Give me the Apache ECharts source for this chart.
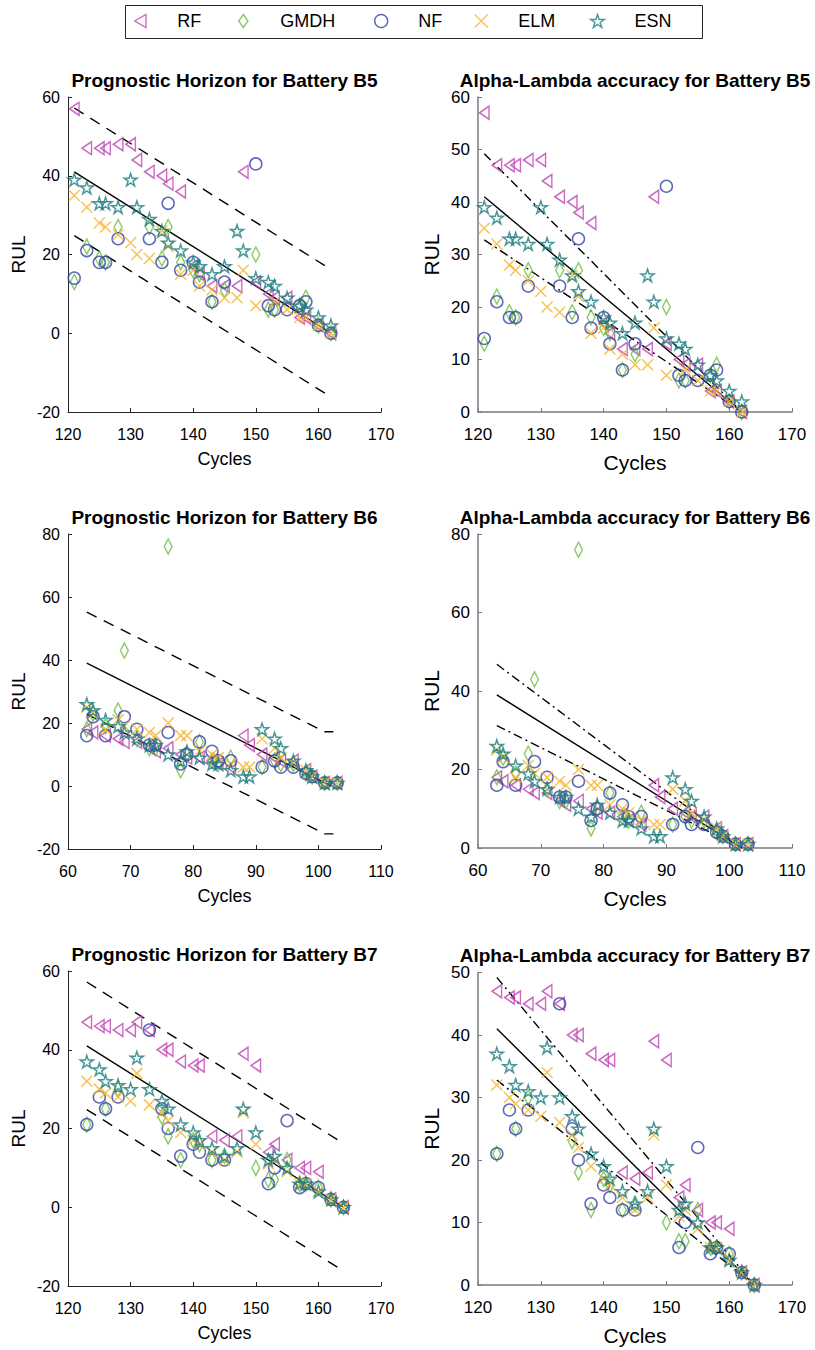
<!DOCTYPE html>
<html>
<head>
<meta charset="utf-8">
<script src="https://cdn.jsdelivr.net/npm/echarts/dist/echarts.min.js"></script>
<style>
html,body{margin:0;padding:0;background:#fff;}
#chart{width:815px;height:1350px;}
</style>
</head>
<body>
<div id="chart"></div>
<script>
// ---------------- data ----------------
const seriesNames = ['RF', 'GMDH', 'NF', 'ELM', 'ESN'];

// Battery B5
const cyclesB5 = [121,123,125,126,128,130,131,133,135,136,138,140,141,143,145,147,148,150,152,153,155,157,158,160,162];
const rfB5   = [57,47,47,47,48,48,44,41,40,38,36,17,15,12,12,12,41,13,10,9,9,4,4,2,0];
const gmdhB5 = [13,22,19,18,27,null,null,27,19,27,18,16,15,8,11,null,null,20,6,6,null,7,9,2,0];
const nfB5   = [14,21,18,18,24,null,null,24,18,33,16,18,13,8,13,null,null,43,7,6,6,7,8,2,0];
const elmB5  = [35,32,28,27,25,23,20,19,26,22,15,16,12,11,9,9,16,7,null,8,6,4,4,2,0];
const esnB5  = [39,37,33,33,32,39,32,29,26,23,21,18,17,15,17,26,21,14,13,12,9,7,6,4,2];

// Battery B6
const cyclesB6 = [63,64,66,68,69,71,73,74,76,78,79,81,83,84,86,88,89,91,93,94,96,98,99,101,103];
const rfB6   = [18,17,16,15,14,14,12,11,12,10,9,9,8,7,6,16,13,10,9,8,8,5,3,1,1];
const gmdhB6 = [18,23,19,24,43,15,12,12,76,5,10,14,8,7,9,null,null,6,8,7,7,4,3,1,1];
const nfB6   = [16,22,16,null,22,18,13,13,17,7,10,14,11,8,8,null,null,6,8,6,6,4,3,1,1];
const elmB6  = [25,23,18,21,19,18,17,16,20,16,16,11,10,9,7,6,6,15,12,9,7,5,3,1,1];
const esnB6  = [26,24,21,19,17,15,13,13,10,8,11,9,7,7,5,3,3,18,15,12,8,5,3,1,1];

// Battery B7
const cyclesB7 = [123,125,126,128,130,131,133,135,136,138,140,141,143,145,147,148,150,152,153,155,157,158,160,162,164];
const rfB7   = [47,46,46,45,45,47,45,40,40,37,36,36,18,17,18,39,36,14,16,12,10,10,9,2,0];
const gmdhB7 = [21,null,25,30,null,null,null,23,18,12,17,16,12,13,null,null,10,7,7,12,6,6,5,2,0];
const nfB7   = [21,28,25,28,null,null,45,25,20,13,16,14,12,12,null,null,null,6,10,22,5,6,5,2,0];
const elmB7  = [32,30,29,28,27,34,26,24,22,19,17,16,14,12,14,24,16,11,12,9,6,6,4,2,0];
const esnB7  = [37,35,32,31,30,38,30,27,25,21,19,17,15,13,15,25,19,12,13,10,6,6,4,2,0];

// reference lines (end points)
const trueB5 = [[121,41],[162,0]];
const phUpB5 = [[121,57.2],[161.3,16.9]];
const phLoB5 = [[121,24.8],[161.3,-15.5]];
const alUpB5 = [[121,49.2],[162,0]];
const alLoB5 = [[121,32.8],[162,0]];

const trueB6 = [[63,39],[102,0]];
const phUpB6 = [[63,55.2],[101,17.2],[102.4,17.2]];
const phLoB6 = [[63,22.8],[101,-15.2],[102.4,-15.2]];
const alUpB6 = [[63,46.8],[102,0]];
const alLoB6 = [[63,31.2],[102,0]];

const trueB7 = [[123,41],[164,0]];
const phUpB7 = [[123,57.2],[163.3,16.9]];
const phLoB7 = [[123,24.8],[163.3,-15.5]];
const alUpB7 = [[123,49.2],[164,0]];
const alLoB7 = [[123,32.8],[164,0]];

const titles = [
  'Prognostic Horizon for Battery B5', 'Alpha-Lambda accuracy for Battery B5',
  'Prognostic Horizon for Battery B6', 'Alpha-Lambda accuracy for Battery B6',
  'Prognostic Horizon for Battery B7', 'Alpha-Lambda accuracy for Battery B7'
];
const xRanges = [[120,170],[120,170],[60,110],[60,110],[120,170],[120,170]];
const yRanges = [[-20,60,20],[0,60,10],[-20,80,20],[0,80,20],[-20,60,20],[0,50,10]];

// ---------------- style ----------------
const FONT = '"Liberation Sans", Arial, Helvetica, sans-serif';
const colors = ['#BF45B3', '#6DBE3E', '#3343A8', '#F6B42C', '#1B7D7E'];
const symbols = [
  'path://M0,5L8.66,0L8.66,10Z',
  'path://M5,0L10,7L5,14L0,7Z',
  'circle',
  'path://M0,0L10,10M10,0L0,10',
  'path://M50,0L61.17,34.63L97.55,34.55L68.07,55.87L79.39,90.45L50,69L20.61,90.45L31.93,55.87L2.45,34.55L38.83,34.63Z'
];
const symSizes = [[11,13],[11,15],12,11,[13,13]];

const grids = [
  {left:68, top:97, width:313, height:315},
  {left:478, top:97, width:314, height:315},
  {left:68, top:534, width:313, height:315},
  {left:478, top:534, width:314, height:314},
  {left:68, top:971, width:313, height:315},
  {left:478, top:972.5, width:314, height:312.5}
];

const batteries = [
  {cycles: cyclesB5, vals: [rfB5, gmdhB5, nfB5, elmB5, esnB5], truth: trueB5, ph: [phUpB5, phLoB5], al: [alUpB5, alLoB5]},
  {cycles: cyclesB6, vals: [rfB6, gmdhB6, nfB6, elmB6, esnB6], truth: trueB6, ph: [phUpB6, phLoB6], al: [alUpB6, alLoB6]},
  {cycles: cyclesB7, vals: [rfB7, gmdhB7, nfB7, elmB7, esnB7], truth: trueB7, ph: [phUpB7, phLoB7], al: [alUpB7, alLoB7]}
];

const xAxes = [], yAxes = [], series = [], graphics = [];

grids.forEach((g, i) => {
  g.outerBoundsMode = 'none';
  const right = i % 2 === 1;
  const tickFs = right ? 17 : 16;
  const nameFs = right ? 21 : 18;
  const axisCol = right ? '#7a7a7a' : '#262626';
  xAxes.push({
    gridIndex: i, type: 'value', min: xRanges[i][0], max: xRanges[i][1], interval: 10,
    name: 'Cycles', nameLocation: 'middle', nameGap: right ? 40 : 38,
    nameTextStyle: {fontFamily: FONT, fontSize: nameFs, color: '#000'},
    axisLine: {show: true, onZero: false, lineStyle: {color: axisCol, width: right ? 1.5 : 1}},
    axisTick: {show: true, inside: true, length: 4, lineStyle: {color: axisCol}},
    axisLabel: {fontFamily: FONT, fontSize: tickFs, color: '#000', margin: 14},
    splitLine: {show: false}
  });
  yAxes.push({
    gridIndex: i, type: 'value', min: yRanges[i][0], max: yRanges[i][1], interval: yRanges[i][2],
    name: 'RUL', nameLocation: 'middle', nameGap: right ? 36 : 40, nameRotate: 90,
    nameTextStyle: {fontFamily: FONT, fontSize: right ? 21 : 19, color: '#000'},
    axisLine: {show: true, onZero: false, lineStyle: {color: axisCol, width: right ? 1.5 : 1}},
    axisTick: {show: true, inside: true, length: 4, lineStyle: {color: axisCol}},
    axisLabel: {fontFamily: FONT, fontSize: tickFs, color: '#000', margin: 8},
    splitLine: {show: false}
  });

  const b = batteries[Math.floor(i / 2)];
  const lineSeries = (pts, type) => ({
    type: 'line', xAxisIndex: i, yAxisIndex: i, data: pts, symbol: 'none', silent: true,
    lineStyle: {color: '#000', width: 1.4, type: type}, z: 2, animation: false
  });
  series.push(lineSeries(b.truth, 'solid'));
  if (right) {
    series.push(lineSeries(b.al[0], [9, 4, 2, 4]));
    series.push(lineSeries(b.al[1], [9, 4, 2, 4]));
  } else {
    series.push(lineSeries(b.ph[0], [11, 8]));
    series.push(lineSeries(b.ph[1], [11, 8]));
  }
  seriesNames.forEach((nm, k) => {
    const data = [];
    b.cycles.forEach((c, j) => { if (b.vals[k][j] != null) data.push([c, b.vals[k][j]]); });
    series.push({
      type: 'scatter', name: nm, xAxisIndex: i, yAxisIndex: i, data: data,
      symbol: symbols[k], symbolSize: symSizes[k], symbolKeepAspect: true,
      itemStyle: {color: 'transparent', borderColor: colors[k], borderWidth: 1.5},
      emphasis: {disabled: true}, z: 3 + k, animation: false
    });
  });

  graphics.push({
    type: 'text', x: g.left + g.width / 2, y: g.top - 17,
    style: {text: titles[i], fontFamily: FONT, fontWeight: 'bold', fontSize: 19, fill: '#000',
            align: 'center', verticalAlign: 'middle'}
  });
});

// legend box
graphics.push({
  type: 'rect', shape: {x: 125.5, y: 5.5, width: 577, height: 33},
  style: {fill: '#fff', stroke: '#262626', lineWidth: 1}, z: -10
});

const legendIconCenters = [166, 270, 406, 506, 622];
const legends = seriesNames.map((nm, k) => ({
  data: [nm], left: legendIconCenters[k] - 32, top: 12, orient: 'horizontal',
  itemWidth: 64, itemHeight: 13, itemGap: 0, padding: 0, selectedMode: false,
  icon: symbols[k], symbolKeepAspect: true,
  itemStyle: {color: 'transparent', borderColor: colors[k], borderWidth: 1.4},
  textStyle: {fontFamily: FONT, fontSize: 18, color: '#000'}
}));

const chart = echarts.init(document.getElementById('chart'), null, {renderer: 'svg'});
chart.setOption({
  animation: false,
  backgroundColor: '#fff',
  grid: grids,
  xAxis: xAxes,
  yAxis: yAxes,
  legend: legends,
  graphic: graphics,
  series: series
});
</script>
</body>
</html>
